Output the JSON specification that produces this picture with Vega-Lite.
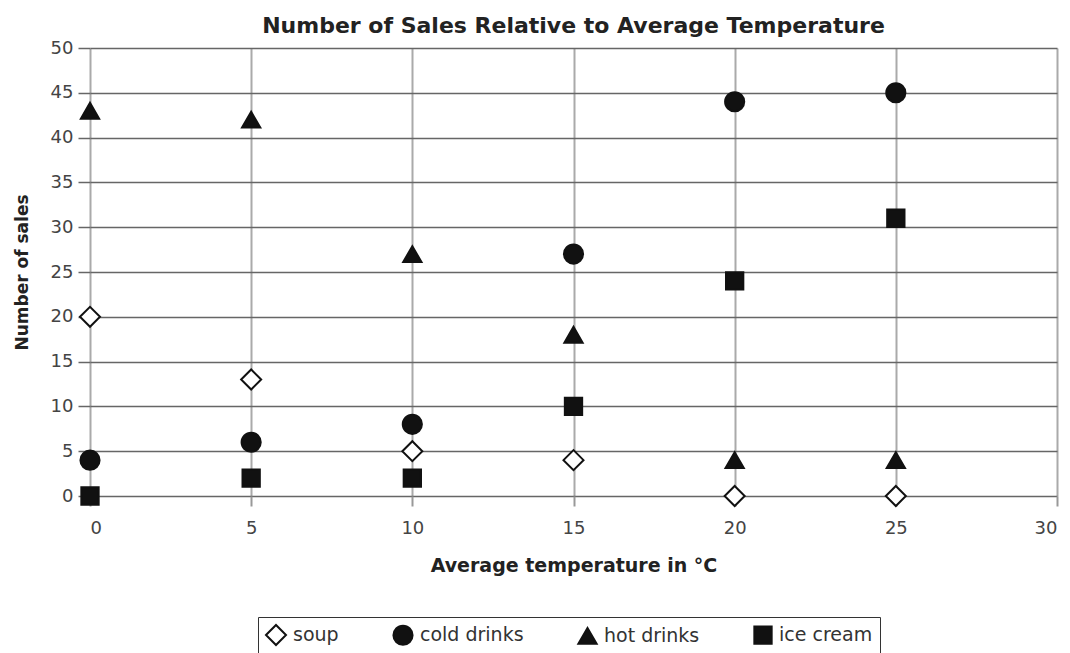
{
  "$schema": "https://vega.github.io/schema/vega-lite/v6.json",
  "width": 967,
  "height": 448,
  "autosize": {"type": "none"},
  "padding": {"left": 90, "top": 48, "right": 13, "bottom": 157},
  "background": "white",
  "config": {
    "view": {"stroke": null},
    "font": "DejaVu Sans",
    "legend": {
      "title": null,
      "orient": "none",
      "direction": "horizontal",
      "legendX": 168,
      "legendY": 569,
      "columnPadding": 50,
      "padding": 7,
      "strokeColor": "#333",
      "fillColor": "white",
      "labelFont": "DejaVu Sans",
      "labelFontSize": 19,
      "labelColor": "#333",
      "symbolStrokeWidth": 2,
      "labelOffset": 6
    }
  },
  "title": {
    "text": "Number of Sales Relative to Average Temperature",
    "font": "DejaVu Sans",
    "fontSize": 22,
    "fontWeight": "bold",
    "color": "#222",
    "offset": 1,
    "anchor": "middle"
  },
  "data": {
    "values": [
      {"temp": 0, "sales": 20, "series": "soup"},
      {"temp": 5, "sales": 13, "series": "soup"},
      {"temp": 10, "sales": 5, "series": "soup"},
      {"temp": 15, "sales": 4, "series": "soup"},
      {"temp": 20, "sales": 0, "series": "soup"},
      {"temp": 25, "sales": 0, "series": "soup"},
      {"temp": 0, "sales": 4, "series": "cold drinks"},
      {"temp": 5, "sales": 6, "series": "cold drinks"},
      {"temp": 10, "sales": 8, "series": "cold drinks"},
      {"temp": 15, "sales": 27, "series": "cold drinks"},
      {"temp": 20, "sales": 44, "series": "cold drinks"},
      {"temp": 25, "sales": 45, "series": "cold drinks"},
      {"temp": 0, "sales": 43, "series": "hot drinks"},
      {"temp": 5, "sales": 42, "series": "hot drinks"},
      {"temp": 10, "sales": 27, "series": "hot drinks"},
      {"temp": 15, "sales": 18, "series": "hot drinks"},
      {"temp": 20, "sales": 4, "series": "hot drinks"},
      {"temp": 25, "sales": 4, "series": "hot drinks"},
      {"temp": 0, "sales": 0, "series": "ice cream"},
      {"temp": 5, "sales": 2, "series": "ice cream"},
      {"temp": 10, "sales": 2, "series": "ice cream"},
      {"temp": 15, "sales": 10, "series": "ice cream"},
      {"temp": 20, "sales": 24, "series": "ice cream"},
      {"temp": 25, "sales": 31, "series": "ice cream"}
    ]
  },
  "mark": {"type": "point", "filled": true, "strokeWidth": 2, "opacity": 1},
  "encoding": {
    "x": {
      "field": "temp",
      "type": "quantitative",
      "scale": {"domain": [0, 30], "nice": false, "zero": false},
      "axis": {
        "values": [0, 5, 10, 15, 20, 25, 30],
        "title": "Average temperature in °C",
        "titleFont": "DejaVu Sans",
        "titleFontSize": 19,
        "titleFontWeight": "bold",
        "titleColor": "#222",
        "titlePadding": 19,
        "labelFont": "DejaVu Sans",
        "labelFontSize": 18,
        "labelColor": "#444",
        "labelPadding": 13,
        "domain": false,
        "ticks": true,
        "tickSize": 10,
        "tickColor": "#999",
        "tickWidth": 2,
        "grid": true,
        "gridColor": "#aaa",
        "gridWidth": 2,
        "gridOpacity": 1
      }
    },
    "y": {
      "field": "sales",
      "type": "quantitative",
      "scale": {"domain": [0, 50], "nice": false},
      "axis": {
        "values": [0, 5, 10, 15, 20, 25, 30, 35, 40, 45, 50],
        "title": "Number of sales",
        "titleFont": "DejaVu Sans",
        "titleFontSize": 17,
        "titleFontWeight": "bold",
        "titleColor": "#222",
        "titlePadding": 19,
        "labelFont": "DejaVu Sans",
        "labelFontSize": 18,
        "labelColor": "#444",
        "labelPadding": 5,
        "domain": false,
        "ticks": true,
        "tickSize": 12,
        "tickColor": "#666",
        "tickWidth": 1.5,
        "grid": true,
        "gridColor": "#666",
        "gridWidth": 1.5,
        "gridOpacity": 1
      }
    },
    "shape": {
      "field": "series",
      "type": "nominal",
      "scale": {
        "domain": ["soup", "cold drinks", "hot drinks", "ice cream"],
        "range": ["diamond", "circle", "triangle-up", "square"]
      }
    },
    "fill": {
      "field": "series",
      "type": "nominal",
      "scale": {
        "domain": ["soup", "cold drinks", "hot drinks", "ice cream"],
        "range": ["white", "#111", "#111", "#111"]
      }
    },
    "stroke": {
      "field": "series",
      "type": "nominal",
      "scale": {
        "domain": ["soup", "cold drinks", "hot drinks", "ice cream"],
        "range": ["#111", "#111", "#111", "#111"]
      }
    },
    "size": {
      "field": "series",
      "type": "nominal",
      "scale": {
        "domain": ["soup", "cold drinks", "hot drinks", "ice cream"],
        "range": [400, 300, 360, 270]
      }
    }
  }
}
